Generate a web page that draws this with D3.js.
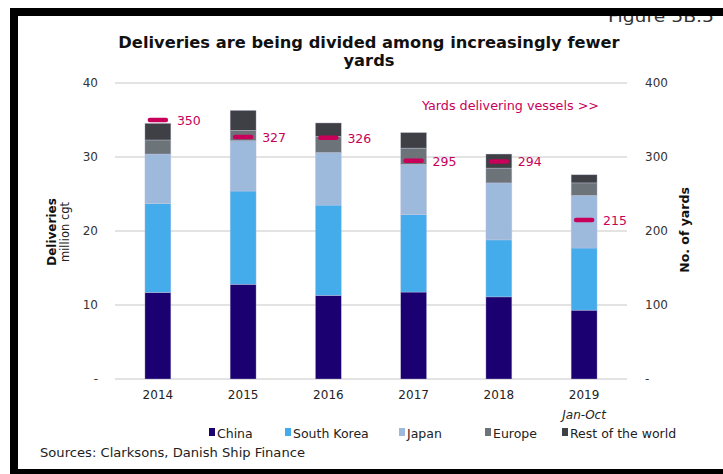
<!DOCTYPE html>
<html>
<head>
<meta charset="utf-8">
<script src="https://cdn.jsdelivr.net/npm/d3@7"></script>
<style>
  html, body { margin: 0; padding: 0; background: #fff; }
  svg { display: block; font-family: "DejaVu Sans", Verdana, sans-serif; }
</style>
</head>
<body>
<svg id="chart" width="723" height="474"></svg>
<script>
// ---- data ----
const years = ["2014", "2015", "2016", "2017", "2018", "2019"];
const seriesNames = ["China", "South Korea", "Japan", "Europe", "Rest of the world"];
const china      = [11.7, 12.8, 11.3, 11.75, 11.1, 9.3];
const southKorea = [12.0, 12.6, 12.2, 10.45, 7.7, 8.4];
const japan      = [6.7, 6.8, 7.1, 6.8, 7.7, 7.1];
const europe     = [1.9, 1.4, 2.2, 2.2, 2.0, 1.7];
const restWorld  = [2.25, 2.7, 1.8, 2.1, 1.9, 1.1];
const yards      = [350, 327, 326, 295, 294, 215];
const leftTicks  = [0, 10, 20, 30, 40];
const rightTicks = [0, 100, 200, 300, 400];

// ---- styles ----
const colors = ["#1a0070", "#45acec", "#9db9dc", "#6c7379", "#3e4046"];
const magenta = "#c8005a";

const svg = d3.select("#chart");

const rows = years.map((y, i) => ({
  year: y,
  "China": china[i], "South Korea": southKorea[i], "Japan": japan[i],
  "Europe": europe[i], "Rest of the world": restWorld[i], yards: yards[i]
}));

const x = d3.scaleBand().domain(years).range([115, 627]).paddingInner(0.696).paddingOuter(0.351);
const yL = d3.scaleLinear().domain([0, 40]).range([379, 83]);
const yR = d3.scaleLinear().domain([0, 400]).range([379, 83]);

// gridlines
svg.append("g").selectAll("line").data(leftTicks).join("line")
  .attr("x1", 115).attr("x2", 627)
  .attr("y1", d => yL(d)).attr("y2", d => yL(d))
  .attr("stroke", "#e3e3e3").attr("stroke-width", 2);

// left axis
const leftAxis = d3.axisLeft(yL).tickValues(leftTicks).tickSize(0).tickPadding(0)
  .tickFormat(d => d === 0 ? "-" : d);
const gL = svg.append("g").attr("transform", "translate(98,0)").call(leftAxis);
gL.select(".domain").remove();
gL.selectAll("text").attr("font-size", 12).attr("fill", "#333").attr("font-family", "DejaVu Sans, Verdana, sans-serif");

// right axis
const rightAxis = d3.axisRight(yR).tickValues(rightTicks).tickSize(0).tickPadding(0)
  .tickFormat(d => d === 0 ? "-" : d);
const gR = svg.append("g").attr("transform", "translate(645,0)").call(rightAxis);
gR.select(".domain").remove();
gR.selectAll("text").attr("font-size", 12).attr("fill", "#333").attr("font-family", "DejaVu Sans, Verdana, sans-serif");

// stacked bars
const stack = d3.stack().keys(seriesNames)(rows);
svg.append("g").selectAll("g").data(stack).join("g")
  .attr("fill", (d, i) => colors[i])
  .selectAll("rect").data(d => d).join("rect")
  .attr("x", d => x(d.data.year))
  .attr("width", x.bandwidth())
  .attr("y", d => yL(d[1]))
  .attr("height", d => yL(d[0]) - yL(d[1]))
  .attr("stroke", "rgba(200,200,225,0.6)").attr("stroke-width", 0.6);

// x axis labels
const xAxis = d3.axisBottom(x).tickSize(0).tickPadding(0);
const gX = svg.append("g").attr("transform", "translate(0,390)").call(xAxis);
gX.select(".domain").remove();
gX.selectAll("text").attr("font-size", 12).attr("fill", "#222").attr("font-family", "DejaVu Sans, Verdana, sans-serif");
svg.append("text").attr("x", x("2019") + x.bandwidth() / 2).attr("y", 419)
  .attr("text-anchor", "middle").attr("font-size", 12).attr("font-style", "italic")
  .attr("fill", "#222").text("Jan-Oct");

// yards markers
const mk = svg.append("g");
mk.selectAll("line").data(rows).join("line")
  .attr("x1", d => x(d.year) + x.bandwidth() / 2 - 8)
  .attr("x2", d => x(d.year) + x.bandwidth() / 2 + 8)
  .attr("y1", d => yR(d.yards)).attr("y2", d => yR(d.yards))
  .attr("stroke", magenta).attr("stroke-width", 4.5).attr("stroke-linecap", "round");
mk.selectAll("text").data(rows).join("text")
  .attr("x", d => x(d.year) + x.bandwidth() / 2 + 19)
  .attr("y", d => yR(d.yards) + 5)
  .attr("font-size", 12.5).attr("fill", magenta)
  .text(d => d.yards);

svg.append("text").attr("x", 422).attr("y", 110).attr("font-size", 12)
  .attr("fill", magenta).attr("textLength", 177).attr("lengthAdjust", "spacingAndGlyphs")
  .text("Yards delivering vessels >>");

// axis titles
svg.append("text").attr("transform", "translate(56,232) rotate(-90)")
  .attr("text-anchor", "middle").attr("font-size", 12).attr("font-weight", "bold")
  .attr("fill", "#111").text("Deliveries");
svg.append("text").attr("transform", "translate(69,232) rotate(-90)")
  .attr("text-anchor", "middle").attr("font-size", 11.5)
  .attr("fill", "#222").text("million cgt");
svg.append("text").attr("transform", "translate(689,230) rotate(-90)")
  .attr("text-anchor", "middle").attr("font-size", 12.5).attr("font-weight", "bold")
  .attr("fill", "#111").text("No. of yards");

// title
svg.append("text").attr("x", 369).attr("y", 48).attr("text-anchor", "middle")
  .attr("font-size", 16.3).attr("font-weight", "bold").attr("fill", "#111")
  .text("Deliveries are being divided among increasingly fewer");
svg.append("text").attr("x", 369).attr("y", 66).attr("text-anchor", "middle")
  .attr("font-size", 16.3).attr("font-weight", "bold").attr("fill", "#111")
  .text("yards");

// legend
const legendX = [209, 285, 399, 485, 562];
const lg = svg.append("g").selectAll("g").data(seriesNames).join("g")
  .attr("transform", (d, i) => `translate(${legendX[i]},438)`);
lg.append("rect").attr("x", 0).attr("y", -10).attr("width", 6).attr("height", 8)
  .attr("fill", (d, i) => colors[i]);
lg.append("text").attr("x", 8).attr("y", 0).attr("font-size", 12.5).attr("fill", "#222").text(d => d);

// source
svg.append("text").attr("x", 40).attr("y", 457).attr("font-size", 12.5).attr("fill", "#222")
  .attr("textLength", 265).attr("lengthAdjust", "spacingAndGlyphs")
  .text("Sources: Clarksons, Danish Ship Finance");

// figure label (partly hidden by frame)
svg.append("text").attr("x", 608).attr("y", 22).attr("font-size", 15).attr("fill", "#333")
  .attr("textLength", 106).attr("lengthAdjust", "spacingAndGlyphs")
  .text("Figure 5B.5");

// frame
svg.append("rect").attr("x", 10).attr("y", 8).attr("width", 713).attr("height", 8).attr("fill", "#000");
svg.append("rect").attr("x", 10).attr("y", 8).attr("width", 8).attr("height", 466).attr("fill", "#000");
svg.append("rect").attr("x", 10).attr("y", 469).attr("width", 713).attr("height", 5).attr("fill", "#000");
</script>
</body>
</html>
